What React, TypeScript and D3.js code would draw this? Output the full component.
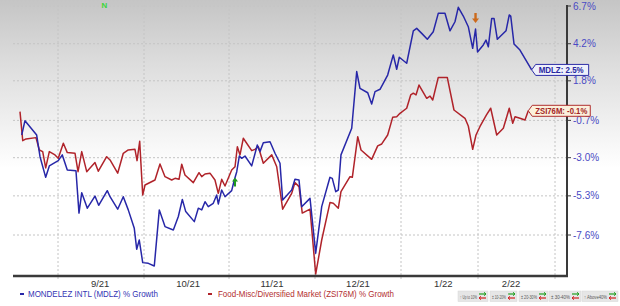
import React from 'react';
import * as d3 from 'd3';

// ---------- data (x in month units: 9 = Sep 1 2021, 13 = Jan 1 2022; values in % growth) ----------
const mdlzT = [8.578, 8.616, 8.752, 8.791, 8.857, 8.899, 9.003, 9.05, 9.108, 9.209, 9.244, 9.276, 9.341, 9.43, 9.473, 9.573, 9.605, 9.694, 9.759, 9.817, 9.887, 9.915, 9.945, 9.985, 10.051, 10.121, 10.18, 10.247, 10.345, 10.404, 10.451, 10.491, 10.592, 10.639, 10.679, 10.718, 10.756, 10.815, 10.855, 10.874, 10.914, 10.953, 11.031, 11.062, 11.09, 11.12, 11.148, 11.186, 11.264, 11.329, 11.36, 11.399, 11.477, 11.535, 11.593, 11.624, 11.729, 11.767, 11.814, 11.845, 11.942, 11.962, 12.008, 12.078, 12.174, 12.201, 12.241, 12.271, 12.302, 12.427, 12.485, 12.523, 12.613, 12.659, 12.698, 12.756, 12.845, 12.91, 12.95, 12.98, 13.074, 13.16, 13.204, 13.269, 13.342, 13.419, 13.484, 13.571, 13.636, 13.701, 13.744, 13.809, 13.874, 13.931, 13.968, 13.994, 14.069, 14.104, 14.134, 14.178, 14.208, 14.251, 14.364, 14.406, 14.425, 14.468, 14.545, 14.697];
const mdlzV = [-1.61, -0.72, -1.61, -2.94, -4.19, -3.5, -3.18, -2.83, -3.75, -3.79, -6.32, -5.11, -6.03, -5.31, -5.86, -4.99, -5.35, -6.09, -5.35, -6.13, -7.21, -8.42, -7.89, -9.19, -9.23, -9.38, -6.13, -7.11, -7.31, -6.52, -5.51, -6.23, -6.82, -6.03, -6.13, -5.645, -5.94, -5.74, -5.25, -5.78, -4.95, -5.35, -4.99, -4.35, -3.85, -2.9, -3.04, -2.9, -3.5, -2.22, -2.63, -2.08, -2.02, -2.73, -3.34, -5.55, -4.95, -4.31, -4.35, -5.94, -5.45, -6.42, -8.65, -5.94, -4.19, -4.25, -5.05, -4.95, -2.83, -1.19, 2.39, 1.32, 1.04, 0.33, 1.11, 1.26, 2.17, 3.47, 2.54, 3.32, 2.93, 5.05, 5.21, 4.88, 4.49, 4.99, 6.21, 6.21, 5.05, 5.65, 6.61, 6.03, 5.32, 3.9, 5.17, 3.66, 4.12, 4.44, 4.0, 5.87, 5.87, 4.49, 5.05, 6.1, 6.03, 4.18, 3.79, 2.5];

const zsiT = [8.558, 8.59, 8.628, 8.744, 8.783, 8.822, 8.857, 8.899, 8.965, 9.003, 9.062, 9.108, 9.198, 9.233, 9.276, 9.334, 9.43, 9.469, 9.566, 9.605, 9.694, 9.759, 9.817, 9.895, 9.919, 9.95, 9.985, 10.012, 10.129, 10.188, 10.247, 10.326, 10.365, 10.412, 10.444, 10.482, 10.58, 10.647, 10.679, 10.718, 10.776, 10.835, 10.874, 10.914, 10.953, 11.031, 11.07, 11.097, 11.128, 11.166, 11.264, 11.302, 11.341, 11.399, 11.497, 11.555, 11.624, 11.729, 11.767, 11.814, 11.852, 11.942, 12.008, 12.078, 12.174, 12.213, 12.271, 12.302, 12.407, 12.434, 12.497, 12.535, 12.659, 12.729, 12.776, 12.845, 12.903, 12.95, 12.988, 13.074, 13.126, 13.16, 13.195, 13.234, 13.334, 13.377, 13.412, 13.484, 13.601, 13.688, 13.831, 13.874, 13.931, 13.974, 14.026, 14.11, 14.165, 14.243, 14.329, 14.406, 14.451, 14.481, 14.545, 14.61, 14.653];
const zsiV = [-0.15, -1.96, -1.85, -1.77, -2.53, -2.63, -3.62, -2.63, -2.83, -3.04, -2.12, -2.69, -2.73, -3.85, -2.63, -3.85, -3.3, -3.82, -2.94, -3.14, -3.94, -2.73, -2.53, -2.49, -3.18, -2.0, -5.25, -4.65, -4.35, -3.38, -4.15, -4.35, -4.25, -4.31, -3.4, -4.05, -4.51, -3.91, -4.15, -3.99, -3.94, -4.35, -5.15, -4.31, -4.71, -3.75, -3.55, -2.33, -2.83, -1.81, -2.57, -2.49, -2.33, -3.34, -2.83, -3.55, -6.09, -5.15, -4.51, -4.75, -6.32, -6.09, -9.84, -7.89, -5.7, -5.74, -6.03, -5.05, -4.15, -4.19, -1.71, -2.53, -3.1, -2.28, -2.16, -1.61, -0.51, -0.47, -0.26, 0.06, 0.9, 1.01, 0.9, 1.53, 0.69, 0.83, 0.58, 2.02, 2.02, -0.05, -0.57, -1.05, -2.49, -1.61, -1.08, -0.36, 0.06, -1.61, -1.19, 0.06, -0.88, -0.47, -0.57, -0.68, -0.1];

const yTicks = [6.7, 4.2, 1.8, -0.7, -3.0, -5.3, -7.6];
const monthBounds = [9, 10, 11, 12, 13, 14, 15];
const monthLabelPos = [9.49, 10.52, 11.5, 12.5, 13.55, 14.43];
const monthLabels = ['9/21', '10/21', '11/21', '12/21', '1/22', '2/22'];
const legendNames = ['MONDELEZ INTL (MDLZ) % Growth', 'Food-Misc/Diversified Market (ZSI76M) % Growth'];
const seriesTags = ['MDLZ', 'ZSI76M'];
const rankLabels = ['\u2191 Up to 10%', '\u00b1 10-20%', '\u00b1 20-30%', '\u00b1 30-40%', '\u2191 Above40%'];
const upArrowT = 11.07;
const upArrowV = -4.5;
const downArrowT = 13.968;
const downArrowV = 5.9;
const newsT = 9.54;

const W = 620;
const H = 306;
const BLUE = '#2727a8';
const RED = '#b0232a';
const FONT = "Arial, 'Liberation Sans', sans-serif";

export default function App() {
  const left = 13, right = 567, top = 5, bottom = 276;
  const x = d3.scaleLinear().domain(monthBounds).range([58, 144, 229, 315, 401, 478, 555]);
  const ylog = d3.scaleLog().domain([1 - 7.6 / 100, 1 + 6.7 / 100]).range([235, 6]);
  const y = (v: number) => ylog(1 + v / 100);

  const line = d3.line<[number, number]>().x(d => x(d[0])).y(d => y(d[1]));
  const blueData = mdlzT.map((t, i) => [t, mdlzV[i]] as [number, number]);
  const redData = zsiT.map((t, i) => [t, zsiV[i]] as [number, number]);

  const lastB = blueData[blueData.length - 1];
  const lastR = redData[redData.length - 1];

  const tag = (d: [number, number], name: string, w: number, tw: number, stroke: string, fill: string, color: string) => {
    const tx = x(d[0]);
    const ty = y(d[1]);
    const h = 11;
    const p = `M${tx},${ty} L${tx + 4},${ty - h / 2} L${tx + w},${ty - h / 2} L${tx + w},${ty + h / 2} L${tx + 4},${ty + h / 2} Z`;
    return (
      <g>
        <path d={p} fill={fill} stroke={stroke} strokeWidth={1} />
        <text x={tx + 7} y={ty + 3.3} fontSize={8.5} fontWeight="bold" fill={color} fontFamily={FONT}
          textLength={tw} lengthAdjust="spacingAndGlyphs">
          {name}: {d[1].toFixed(1)}%
        </text>
      </g>
    );
  };

  const rankBoxes = [[458, 30], [490, 27], [519, 29], [549, 32], [582, 36]];

  return (
    <svg width={W} height={H} style={{ position: 'absolute', left: 0, top: 0 }} fontFamily={FONT}>
      <defs>
        <linearGradient id="bg" x1="0" y1="0" x2="0" y2="1">
          <stop offset="0" stopColor="#c5c5c5" />
          <stop offset="0.2" stopColor="#dcdcdc" />
          <stop offset="0.55" stopColor="#ffffff" />
          <stop offset="1" stopColor="#ffffff" />
        </linearGradient>
      </defs>
      <rect x={0} y={0} width={W} height={H} fill="url(#bg)" />

      {/* grid */}
      {yTicks.map((v, i) => (
        <line key={'h' + i} x1={left} x2={right} y1={y(v)} y2={y(v)} stroke="#c4c4c4" strokeDasharray="2,2" />
      ))}
      {monthBounds.map((m, i) => (
        <line key={'v' + i} x1={x(m)} x2={x(m)} y1={top} y2={bottom + 3} stroke="#c4c4c4" strokeDasharray="2,2" />
      ))}

      {/* news marker */}
      <text x={x(newsT)} y={8} fontSize={8} fontWeight="bold" fill="#3ad63a" textAnchor="middle">N</text>

      {/* series */}
      <path d={line(redData) || ''} fill="none" stroke={RED} strokeWidth={1.5} strokeLinejoin="round" />
      <path d={line(blueData) || ''} fill="none" stroke={BLUE} strokeWidth={1.5} strokeLinejoin="round" />

      {/* arrows */}
      <g transform={`translate(${x(upArrowT)},${y(upArrowV)})`}>
        <path d="M0,-5 L3,-1 L1,-1 L1,4 L-1,4 L-1,-1 L-3,-1 Z" fill="#1f9a1f" />
      </g>
      <g transform={`translate(${x(downArrowT)},${y(downArrowV)})`}>
        <path d="M0,5 L3.5,0.5 L1.2,0.5 L1.2,-5 L-1.2,-5 L-1.2,0.5 L-3.5,0.5 Z" fill="#cc6a1c" />
      </g>

      {/* axes */}
      <line x1={left} x2={right + 1} y1={bottom} y2={bottom} stroke="#3a3a3a" strokeWidth={2.5} />
      <line x1={right} x2={right} y1={top} y2={bottom + 1} stroke="#3a3a3a" strokeWidth={2} />
      {yTicks.map((v, i) => (
        <g key={'yt' + i}>
          <line x1={right} x2={right + 4} y1={y(v)} y2={y(v)} stroke="#3a3a3a" strokeWidth={1} />
          <text x={right + 6} y={y(v) + 3.5} fontSize={10} fill="#4a4ac4">{v.toFixed(1)}%</text>
        </g>
      ))}
      {monthLabels.map((l, i) => (
        <text key={'xl' + i} x={x(monthLabelPos[i])} y={287} fontSize={9.5} fill="#333" textAnchor="middle">{l}</text>
      ))}

      {/* value tags */}
      {tag(lastR, seriesTags[1], 62, 52, '#b03030', '#fbf0dc', '#a32626')}
      {tag(lastB, seriesTags[0], 57, 45, '#2d2da6', '#eef0fb', '#2626a0')}

      {/* legend */}
      <line x1={20} x2={24} y1={294} y2={294} stroke={BLUE} strokeWidth={2} />
      <text x={28} y={297.2} fontSize={9} fill="#3434b4" textLength={130} lengthAdjust="spacingAndGlyphs">{legendNames[0]}</text>
      <line x1={208} x2={212} y1={294} y2={294} stroke={RED} strokeWidth={2} />
      <text x={218} y={297.2} fontSize={9} fill="#b33030" textLength={176} lengthAdjust="spacingAndGlyphs">{legendNames[1]}</text>

      {rankBoxes.map(([bx, bw], i) => (
        <g key={'rb' + i}>
          <rect x={bx} y={291} width={bw} height={10.5} fill="#e6e6e6" stroke="#d6d6d6" strokeWidth={0.5} />
          <text x={bx + 2} y={298.5} fontSize={5.5} fill="#555" textLength={bw - 13} lengthAdjust="spacingAndGlyphs">{rankLabels[i]}</text>
          <path d={`M${bx + bw - 9},${294} L${bx + bw - 2},${294}`} stroke="#22a022" strokeWidth={1.2} />
          <path d={`M${bx + bw - 4},${292.3} L${bx + bw - 2},${294} L${bx + bw - 4},${295.7}`} fill="none" stroke="#22a022" strokeWidth={1} />
          <path d={`M${bx + bw - 9},${298} L${bx + bw - 2},${298}`} stroke="#d02020" strokeWidth={1.2} />
          <path d={`M${bx + bw - 7},${296.3} L${bx + bw - 9},${298} L${bx + bw - 7},${299.7}`} fill="none" stroke="#d02020" strokeWidth={1} />
        </g>
      ))}
    </svg>
  );
}
